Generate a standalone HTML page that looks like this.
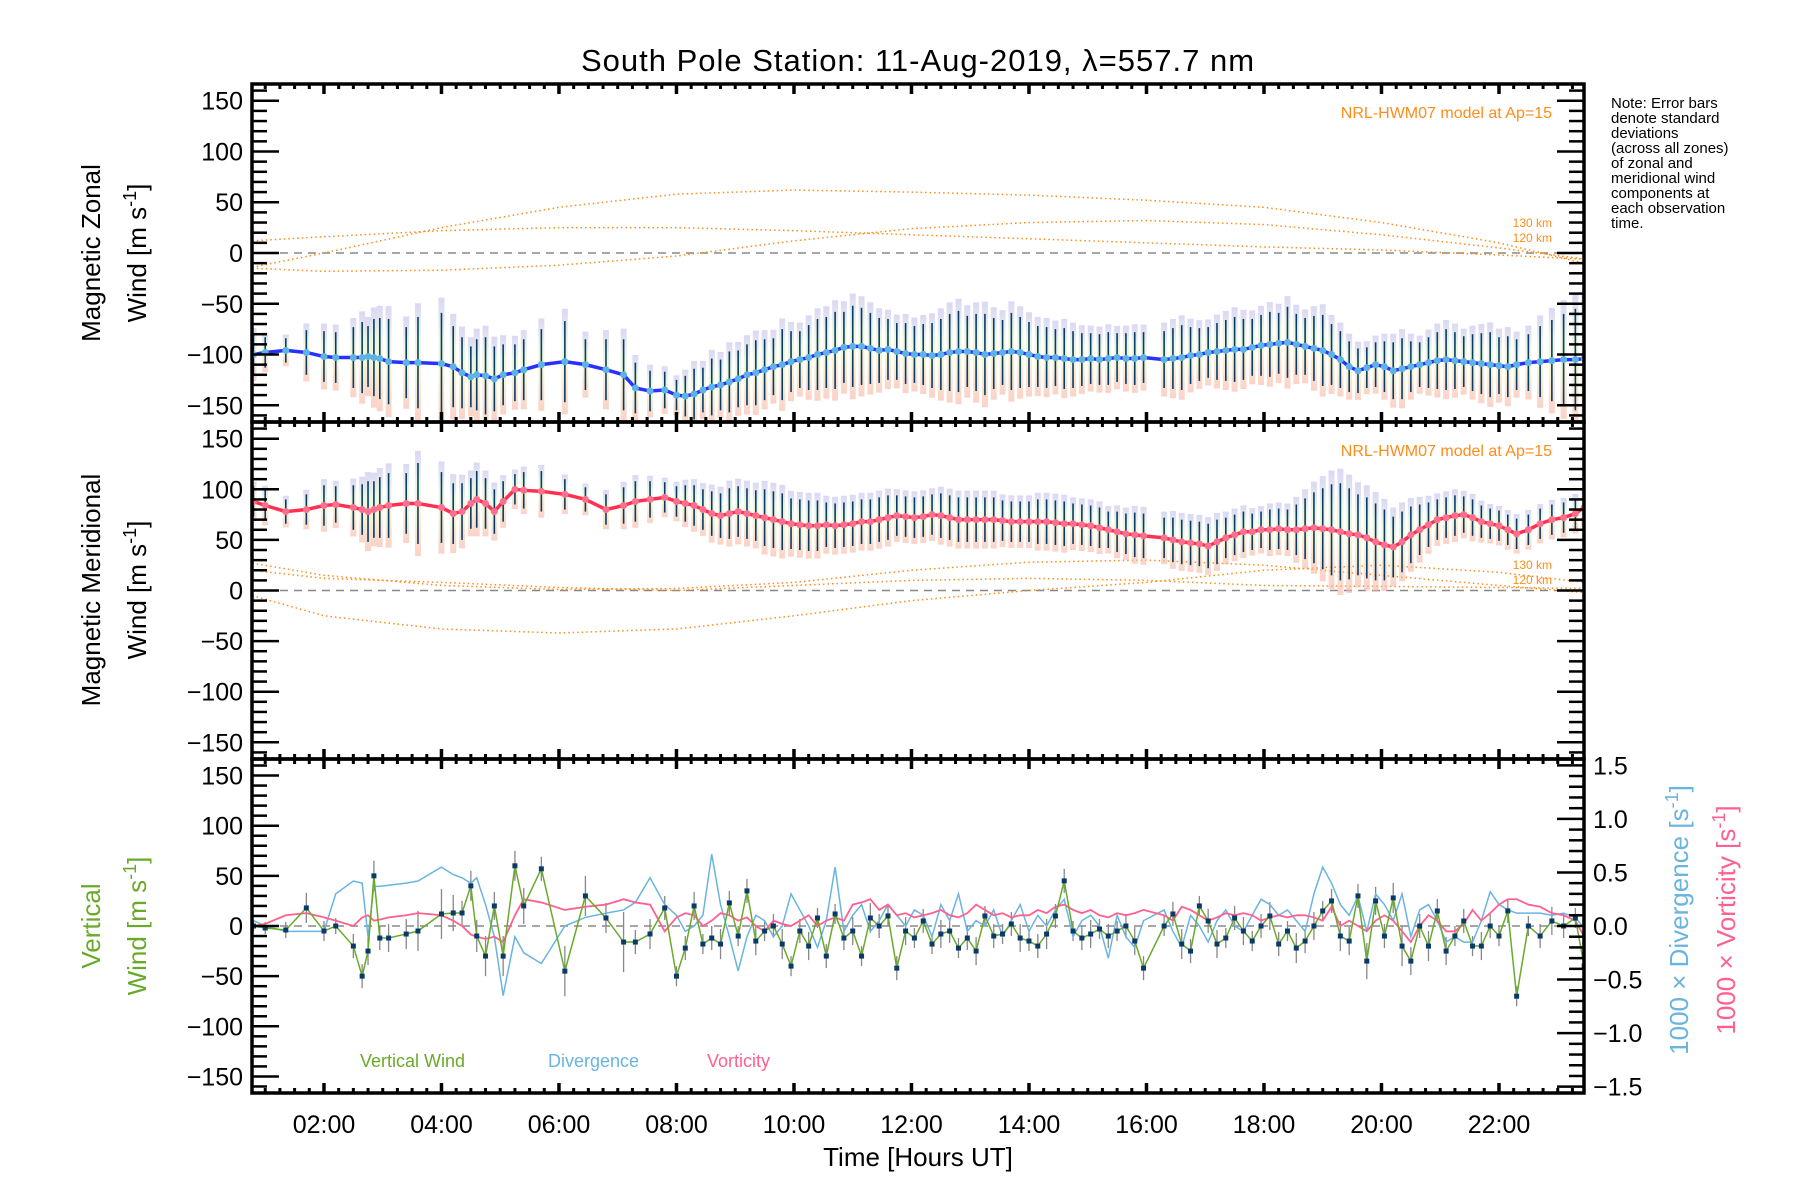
<!DOCTYPE html>
<html><head><meta charset="utf-8">
<style>
html,body{margin:0;padding:0;background:#fff;}
svg{display:block;font-family:"Liberation Sans",sans-serif;}
</style></head>
<body>
<svg id="chart" width="1800" height="1200" viewBox="0 0 1800 1200" xmlns="http://www.w3.org/2000/svg">
<rect x="0" y="0" width="1800" height="1200" fill="#fff"/>
<text x="918" y="71" font-size="31" text-anchor="middle" letter-spacing="1">South Pole Station: 11-Aug-2019, λ=557.7 nm</text>
<g id="layer"></g>
<g font-size="15" fill="#000">
<text x="1611" y="108">Note: Error bars</text>
<text x="1611" y="123">denote standard</text>
<text x="1611" y="138">deviations</text>
<text x="1611" y="153">(across all zones)</text>
<text x="1611" y="168">of zonal and</text>
<text x="1611" y="183">meridional wind</text>
<text x="1611" y="198">components at</text>
<text x="1611" y="213">each observation</text>
<text x="1611" y="228">time.</text>
</g>
<text transform="translate(100,253) rotate(-90)" font-size="26" text-anchor="middle">Magnetic Zonal</text>
<text transform="translate(146,253) rotate(-90)" font-size="26" text-anchor="middle">Wind [m s<tspan dy="-10" font-size="18">-1</tspan><tspan dy="10">]</tspan></text>
<text transform="translate(100,590) rotate(-90)" font-size="26" text-anchor="middle">Magnetic Meridional</text>
<text transform="translate(146,590) rotate(-90)" font-size="26" text-anchor="middle">Wind [m s<tspan dy="-10" font-size="18">-1</tspan><tspan dy="10">]</tspan></text>
<text transform="translate(100,926) rotate(-90)" font-size="26" text-anchor="middle" fill="#6aaa2a">Vertical</text>
<text transform="translate(146,926) rotate(-90)" font-size="26" text-anchor="middle" fill="#6aaa2a">Wind [m s<tspan dy="-10" font-size="18">-1</tspan><tspan dy="10">]</tspan></text>
<text transform="translate(1688,920) rotate(-90)" font-size="26" text-anchor="middle" fill="#6ab4e0">1000 × Divergence [s<tspan dy="-10" font-size="18">-1</tspan><tspan dy="10">]</tspan></text>
<text transform="translate(1735,920) rotate(-90)" font-size="26" text-anchor="middle" fill="#ff6090">1000 × Vorticity [s<tspan dy="-10" font-size="18">-1</tspan><tspan dy="10">]</tspan></text>
<text x="918" y="1166" font-size="26" text-anchor="middle">Time [Hours UT]</text>
<text x="1552" y="118" font-size="16" text-anchor="end" fill="#ff8c1a">NRL-HWM07 model at Ap=15</text>
<text x="1552" y="456" font-size="16" text-anchor="end" fill="#ff8c1a">NRL-HWM07 model at Ap=15</text>
<text x="1552" y="227" font-size="12" text-anchor="end" fill="#ff8c1a">130 km</text>
<text x="1552" y="242" font-size="12" text-anchor="end" fill="#ff8c1a">120 km</text>
<text x="1552" y="569" font-size="12" text-anchor="end" fill="#ff8c1a">130 km</text>
<text x="1552" y="584" font-size="12" text-anchor="end" fill="#ff8c1a">120 km</text>
<text x="360" y="1067" font-size="18" fill="#6aaa2a">Vertical Wind</text>
<text x="548" y="1067" font-size="18" fill="#6ab4e0">Divergence</text>
<text x="707" y="1067" font-size="18" fill="#ff6090">Vorticity</text>
</svg>
<script>
const obsT=[0.8,1.0,1.35,1.7,2.0,2.2,2.5,2.65,2.75,2.85,
2.95,3.1,3.4,3.6,4.0,4.2,4.35,4.5,4.6,4.75,
4.9,5.05,5.25,5.4,5.7,6.1,6.45,6.8,7.1,7.3,
7.55,7.8,8.0,8.15,8.3,8.45,8.6,8.75,8.9,9.05,
9.2,9.35,9.5,9.65,9.8,9.95,10.1,10.25,10.4,10.55,
10.7,10.85,11.0,11.15,11.3,11.45,11.6,11.75,11.9,12.05,
12.2,12.35,12.5,12.65,12.8,12.95,13.1,13.25,13.4,13.55,
13.7,13.85,14.0,14.15,14.3,14.45,14.6,14.75,14.9,15.05,
15.2,15.35,15.5,15.65,15.8,15.95,16.3,16.45,16.6,16.75,
16.9,17.05,17.2,17.35,17.5,17.65,17.8,17.95,18.1,18.25,
18.4,18.55,18.7,18.85,19.0,19.15,19.3,19.45,19.6,19.75,
19.9,20.05,20.2,20.35,20.5,20.65,20.8,20.95,21.1,21.25,
21.4,21.55,21.7,21.85,22.0,22.15,22.3,22.5,22.7,22.9,
23.1,23.3,23.45];
const zonalMean=[-100,-98,-96,-98,-102,-103,-103,-103,-102,-103,
-104,-107,-108,-108,-109,-112,-118,-122,-120,-121,
-124,-120,-118,-115,-110,-107,-110,-115,-120,-133,
-136,-135,-140,-141,-139,-135,-132,-130,-127,-124,
-120,-118,-115,-112,-110,-107,-105,-103,-100,-98,
-96,-93,-92,-92,-94,-96,-95,-97,-99,-100,
-100,-101,-100,-98,-97,-97,-98,-100,-99,-98,
-97,-98,-100,-102,-103,-103,-104,-105,-105,-104,
-105,-104,-103,-104,-104,-103,-105,-104,-103,-101,
-100,-98,-97,-96,-95,-95,-93,-91,-90,-89,
-88,-90,-92,-94,-96,-100,-105,-112,-116,-113,
-110,-112,-116,-114,-112,-110,-108,-106,-105,-106,
-107,-108,-109,-110,-111,-112,-110,-108,-107,-106,
-105,-105,-104];
const zonalSd=[20,15,12,22,25,25,30,35,30,38,
40,42,35,45,50,40,35,30,35,38,
32,30,28,30,35,40,25,30,35,25,
20,18,15,20,25,22,28,25,30,28,
30,32,30,28,35,30,28,32,35,35,
38,35,40,38,35,32,30,28,30,28,
30,32,35,38,40,35,38,40,35,32,
38,35,32,30,30,28,30,28,26,25,
25,26,24,25,26,25,28,30,32,28,
26,25,28,30,32,30,28,30,32,30,
35,30,28,32,35,30,28,25,22,20,
22,25,28,30,25,22,25,28,30,28,
25,28,30,32,28,30,25,28,35,40,
45,50,50];
const meridMean=[88,84,78,80,84,85,82,80,78,80,
82,84,86,86,82,76,78,86,90,86,
78,88,100,99,98,95,90,80,84,88,
90,92,88,86,84,80,76,74,76,78,
76,74,72,70,68,66,65,64,64,65,
64,65,66,68,68,70,72,74,73,72,
73,75,74,72,70,70,70,70,70,69,
68,68,68,68,68,67,66,66,65,64,
62,60,58,56,55,54,52,50,48,47,
46,44,48,52,55,58,58,60,60,61,
60,60,61,62,61,60,58,56,55,52,
48,45,43,48,55,60,65,70,72,74,
75,72,68,66,64,60,56,60,66,70,
72,76,82];
const meridSd=[15,15,12,15,20,18,22,25,30,28,
30,32,30,40,35,30,28,25,28,25,
22,20,15,18,20,15,12,15,18,20,
18,15,15,18,20,20,22,22,25,25,
25,25,28,28,28,25,25,25,25,22,
22,22,22,22,22,22,22,20,20,20,
20,20,22,22,22,22,22,22,22,20,
20,20,20,22,22,22,22,20,20,20,
20,18,20,20,22,22,20,22,22,22,
22,22,22,20,20,20,18,18,20,20,
20,25,30,35,40,45,48,45,40,40,
38,35,30,30,28,25,22,20,20,20,
18,18,16,15,15,15,15,15,15,15,
15,15,15];
const vertWind=[0,-2,-4,18,-5,0,-20,-50,-25,50,
-12,-12,-8,-5,12,13,13,40,-10,-30,
20,-30,60,20,57,-45,30,8,-16,-16,
-8,18,-50,-22,20,-18,-12,-18,23,-10,
35,-15,-5,0,-18,-40,-5,-20,8,-30,
12,-12,-5,-30,8,0,10,-42,-5,-12,
5,-18,-8,-5,-22,-12,-25,10,-10,-8,
2,-12,-15,-20,-8,10,45,-5,-12,-8,
-3,-10,-5,0,-15,-42,0,12,-18,-25,
20,5,-18,-12,8,-5,-15,0,10,-18,
-5,-22,-15,0,15,25,-10,-15,30,-35,
25,-10,28,-20,-35,0,-20,15,-25,-10,
5,-20,-20,0,-10,15,-70,0,-10,5,
0,8,-40];
const vertSd=[5,6,8,15,10,8,12,12,14,15,
12,14,15,20,25,18,12,15,16,20,
14,20,15,18,12,25,20,15,30,12,
15,12,10,12,14,10,12,15,12,10,
12,14,10,12,15,10,12,14,10,12,
10,12,14,10,15,12,10,12,14,10,
12,10,14,12,10,12,14,10,12,10,
12,14,10,12,15,12,12,10,12,14,
10,12,10,12,14,12,10,12,15,12,
10,12,14,10,12,14,10,12,14,12,
10,15,12,14,10,12,15,14,12,18,
14,12,15,20,14,12,15,12,14,10,
12,10,14,12,10,12,10,10,12,14,
12,10,12];
const divergence=[0.05,0.0,-0.05,-0.05,-0.05,0.3,0.42,0.40,-0.1,0.37,
0.37,0.38,0.4,0.42,0.55,0.48,0.45,0.4,0.45,0.2,
-0.1,-0.65,-0.1,-0.25,-0.35,0.0,0.08,0.12,0.15,0.22,
0.45,0.2,0.1,-0.05,0.0,0.1,0.67,0.2,-0.1,-0.42,
-0.1,0.1,0.05,-0.1,0.0,0.3,0.15,0.0,-0.2,0.05,
0.55,-0.05,0.1,0.2,-0.05,0.05,0.2,0.1,0.0,0.15,
0.1,-0.1,0.2,0.05,0.3,-0.05,0.05,0.0,0.15,-0.1,
0.05,0.2,-0.05,0.1,0.0,0.15,0.25,-0.1,0.05,0.1,
0.0,-0.3,0.1,-0.1,-0.2,0.05,0.15,-0.05,-0.2,0.1,
0.0,-0.15,0.05,0.15,0.0,-0.05,0.1,0.25,0.2,0.1,
0.15,0.05,-0.05,0.3,0.55,0.4,0.2,0.1,0.28,-0.05,
0.3,0.2,0.05,0.3,-0.1,0.15,0.2,0.05,-0.15,-0.1,
-0.15,-0.15,0.05,0.32,0.2,0.15,0.12,0.12,0.12,0.1,
0.12,0.08,-0.02];
const vorticity=[0.0,0.02,0.1,0.12,0.08,0.05,0.0,0.08,0.1,0.05,
0.06,0.08,0.1,0.12,0.1,0.05,0.0,-0.08,-0.1,-0.12,
-0.1,-0.15,0.1,0.25,0.22,0.15,0.18,0.2,0.25,0.22,
0.2,-0.05,0.08,0.12,0.1,0.0,0.05,0.12,0.1,0.05,
0.08,0.0,-0.05,0.05,0.02,0.0,0.05,0.1,0.0,0.05,
0.08,0.05,0.2,0.22,0.25,0.15,0.2,0.1,0.12,0.08,
0.1,0.12,0.15,0.1,0.08,0.12,0.2,0.15,0.1,0.12,
0.08,0.1,0.1,0.15,0.12,0.18,0.2,0.15,0.12,0.15,
0.1,0.08,0.12,0.1,0.12,0.15,0.1,0.05,0.18,0.15,
0.1,0.05,0.08,0.12,0.1,0.12,0.1,0.05,0.08,0.1,
0.08,0.1,0.1,0.08,0.05,0.18,0.0,0.05,0.0,-0.05,
0.05,0.1,0.05,-0.05,-0.15,0.0,0.1,0.05,-0.05,-0.05,
0.02,0.15,0.05,0.12,0.2,0.25,0.25,0.2,0.18,0.12,
0.1,0.05,-0.1];
const modelT=[0.78,2,4,6,8,10,12,14,16,18,20,22,23.45];
const zonalModelA=[12,16,22,25,25,22,18,14,10,6,3,-2,-6];
const zonalModelB=[-14,0,25,45,58,62,60,57,52,45,30,10,-10];
const zonalModelC=[-15,-18,-17,-12,-3,12,24,30,32,28,18,5,-6];
const meridModelA=[27,15,5,1,2,8,20,28,30,25,15,5,-2];
const meridModelB=[-5,-25,-38,-42,-38,-25,-10,0,8,20,25,18,8];
const meridModelC=[20,12,8,3,0,5,10,12,10,5,4,3,2];
const timeTicks=[2,4,6,8,10,12,14,16,18,20,22];
const timeLabels=["02:00","04:00","06:00","08:00","10:00","12:00","14:00","16:00","18:00","20:00","22:00"];
const windTicks=[150,100,50,0,-50,-100,-150];
const rateTicks=[1.5,1.0,0.5,0.0,-0.5,-1.0,-1.5];

const NS='http://www.w3.org/2000/svg';
const layer=document.getElementById('layer');
const X0=252,X1=1584,T0=0.775,T1=23.447;
const panels=[{top:84,bot:422},{top:422,bot:759},{top:759,bot:1093}];
function xs(t){return X0+(t-T0)*(X1-X0)/(T1-T0);}
function ys(p,v){const P=panels[p];return (P.top+P.bot)/2-v*(P.bot-P.top)/333;}
function yr(v){return ys(2,v*100*1.068);}
function mk(tag,attrs,parent){const e=document.createElementNS(NS,tag);for(const k in attrs)e.setAttribute(k,attrs[k]);(parent||layer).appendChild(e);return e;}

const defs=mk('defs',{});
const g=mk('linearGradient',{id:'spread',x1:0,y1:0,x2:0,y2:1},defs);
[['0','#c4bcf0'],['0.3','#d8f0d0'],['0.55','#f4f0b4'],['1','#f8b4a4']].forEach(s=>mk('stop',{offset:s[0],'stop-color':s[1]},g));
panels.forEach((P,i)=>{const c=mk('clipPath',{id:'clip'+i},defs);mk('rect',{x:X0,y:P.top,width:X1-X0,height:P.bot-P.top},c);});

panels.forEach((P,i)=>{const l=mk('line',{x1:X0,x2:X1,y1:ys(i,0),y2:ys(i,0),stroke:'#888','stroke-width':1.5,'stroke-dasharray':'8,6'});

});

function modelLine(p,vals,name){
  const pts=modelT.map((t,i)=>xs(t)+','+ys(p,vals[i])).join(' ');
  const e=mk('polyline',{points:pts,fill:'none',stroke:'#ff8c1a','stroke-width':1.5,'stroke-dasharray':'1.5,3','clip-path':'url(#clip'+p+')'});
  
  
}
modelLine(0,zonalModelA,'zonal-model-curve-a');modelLine(0,zonalModelB,'zonal-model-curve-b');modelLine(0,zonalModelC,'zonal-model-curve-c');
modelLine(1,meridModelA,'meridional-model-curve-a');modelLine(1,meridModelB,'meridional-model-curve-b');modelLine(1,meridModelC,'meridional-model-curve-c');

function windPanel(p,mean,sd,lineColor,dotColor,name){
  const grp=mk('g',{'clip-path':'url(#clip'+p+')'});
  obsT.forEach((t,i)=>{
    const x=xs(t);
    const s=mk('rect',{x:x-3,y:ys(p,mean[i]+sd[i]*1.3),width:6,height:ys(p,mean[i]-sd[i]*1.3)-ys(p,mean[i]+sd[i]*1.3),fill:'url(#spread)',opacity:0.6},grp);
    
    
  });
  obsT.forEach((t,i)=>{
    const x=xs(t);
    const b=mk('line',{x1:x,x2:x,y1:ys(p,mean[i]+sd[i]),y2:ys(p,mean[i]-sd[i]),stroke:'#0a3a6a','stroke-width':1.6},grp);
    
    
  });
  const pl=mk('polyline',{points:obsT.map((t,i)=>xs(t)+','+ys(p,mean[i])).join(' '),fill:'none',stroke:lineColor,'stroke-width':3.5},grp);
  
  
  obsT.forEach((t,i)=>{
    const c=mk('circle',{cx:xs(t),cy:ys(p,mean[i]),r:3.5,fill:dotColor},grp);
    
    
  });
}
windPanel(0,zonalMean,zonalSd,'#2a30ff','#5cb4e4','zonal');
windPanel(1,meridMean,meridSd,'#ff3050','#ff7090','meridional');

const g3=mk('g',{'clip-path':'url(#clip2)'});
obsT.forEach((t,i)=>{
  const b=mk('line',{x1:xs(t),x2:xs(t),y1:ys(2,vertWind[i]+vertSd[i]),y2:ys(2,vertWind[i]-vertSd[i]),stroke:'#888','stroke-width':1.3},g3);
  
  
});
const dv=mk('polyline',{points:obsT.map((t,i)=>xs(t)+','+yr(divergence[i])).join(' '),fill:'none',stroke:'#6ab4e0','stroke-width':1.5},g3);


const vo=mk('polyline',{points:obsT.map((t,i)=>xs(t)+','+yr(vorticity[i])).join(' '),fill:'none',stroke:'#ff6090','stroke-width':1.8},g3);


const vw=mk('polyline',{points:obsT.map((t,i)=>xs(t)+','+ys(2,vertWind[i])).join(' '),fill:'none',stroke:'#6aaa2a','stroke-width':1.5},g3);


obsT.forEach((t,i)=>{
  const r=mk('rect',{x:xs(t)-2.5,y:ys(2,vertWind[i])-2.5,width:5,height:5,fill:'#0a3a6a'},g3);
  
  
});

panels.forEach((P,p)=>{
  const fr=mk('rect',{x:X0,y:P.top,width:X1-X0,height:P.bot-P.top,fill:'none',stroke:'#000','stroke-width':3.5});
  
  
  for(let q=Math.ceil(T0*4);q<=Math.floor(T1*4);q++){
    const t=q/4,x=xs(t),major=(q%8===0),len=major?10:5;
    mk('line',{x1:x,x2:x,y1:P.top,y2:P.top+len,stroke:'#000','stroke-width':major?3.5:3});
    mk('line',{x1:x,x2:x,y1:P.bot,y2:P.bot-len,stroke:'#000','stroke-width':major?3.5:3});
  }
  for(let v=-160;v<=160;v+=10){
    const y=ys(p,v),major=(v%50===0),len=major?27:15;
    mk('line',{x1:X0,x2:X0+len,y1:y,y2:y,stroke:'#000','stroke-width':2.5});
    if(p<2)mk('line',{x1:X1,x2:X1-len,y1:y,y2:y,stroke:'#000','stroke-width':2.5});
  }
  windTicks.forEach(v=>{
    const tx=mk('text',{x:243,y:ys(p,v)+9,'font-size':25,'text-anchor':'end'});
    tx.textContent=(v<0?'\u2212'+(-v):String(v));
    
    
  });
});
for(let k=-15;k<=15;k++){
  const v=k/10,y=yr(v),major=(k%5===0),len=major?27:15;
  if(y<panels[2].top||y>panels[2].bot)continue;
  mk('line',{x1:X1,x2:X1-len,y1:y,y2:y,stroke:'#000','stroke-width':2.5});
}
rateTicks.forEach(v=>{
  const tx=mk('text',{x:1593,y:yr(v)+9,'font-size':25,'text-anchor':'start'});
  tx.textContent=(v<0?'\u2212':'')+Math.abs(v).toFixed(1);
  
  
});
timeTicks.forEach((t,i)=>{
  const tx=mk('text',{x:xs(t),y:1133,'font-size':25,'text-anchor':'middle'});
  tx.textContent=timeLabels[i];
  
  
});
</script>
</body></html>
